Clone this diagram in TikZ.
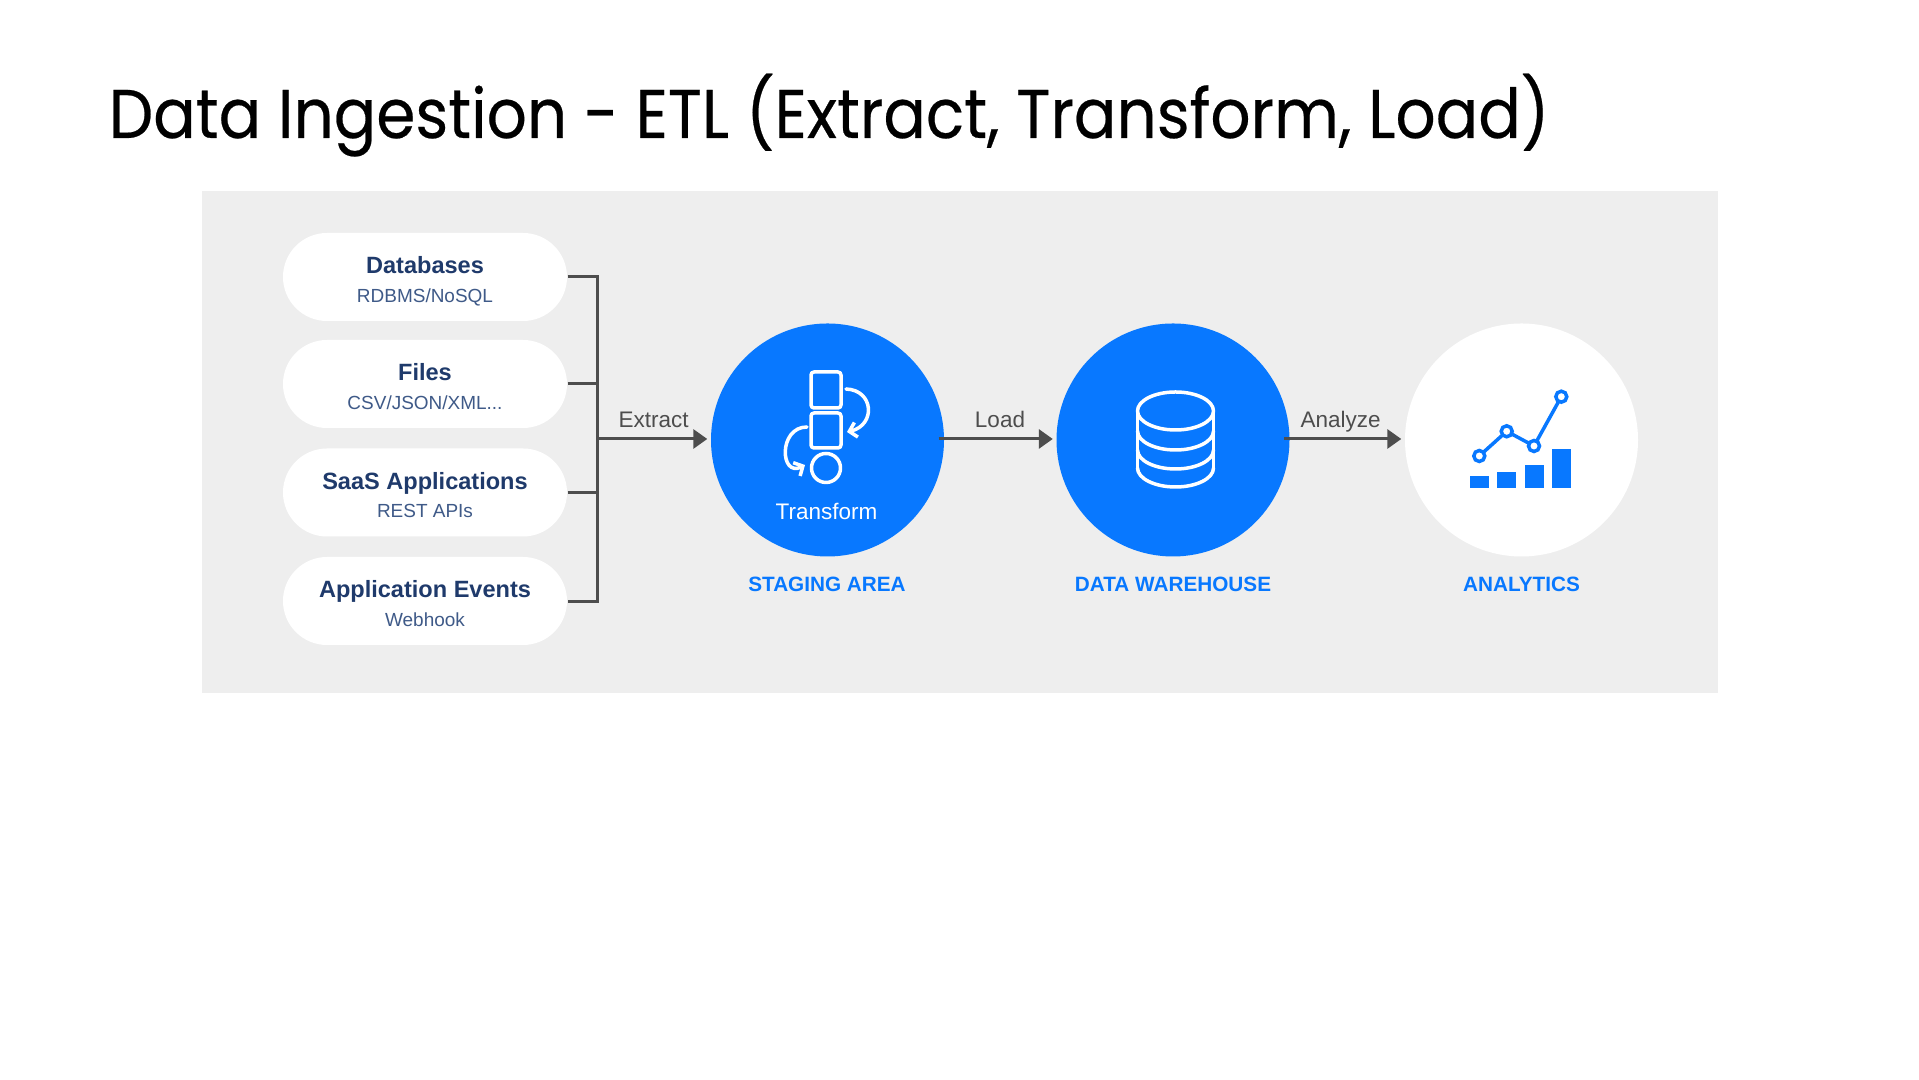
\documentclass[tikz,border=0pt]{standalone}
\usepackage{fontspec}
\setmainfont{Liberation Sans}
\newfontfamily\titlefont[FakeStretch=0.914,RawFeature={embolden=0.35}]{Poppins}
\usetikzlibrary{arrows.meta}
\definecolor{panelgray}{HTML}{EEEEEE}
\definecolor{mainblue}{HTML}{0878FF}
\definecolor{navy}{HTML}{1F3A6B}
\definecolor{subnavy}{HTML}{3F5A88}
\definecolor{wiregray}{HTML}{4D4D4D}
\tikzset{
  sourcepill/.style={fill=white, rounded corners=0.44cm, minimum width=2.84cm, minimum height=0.88cm,
    inner sep=0pt, align=center, text=navy, font=\fontsize{6.7}{8}\selectfont\bfseries},
  stagecircle/.style={circle, minimum size=2.33cm, inner sep=0pt},
  stagelabel/.style={anchor=base, text=mainblue, font=\fontsize{5.9}{7}\selectfont\bfseries},
  flowlabel/.style={anchor=base, text=wiregray, font=\fontsize{6.4}{7}\selectfont},
  wire/.style={draw=wiregray, line width=0.03cm},
  flowarrow/.style={wire, -{Triangle[length=0.14cm,width=0.19cm]}, shorten >=0.03cm, shorten <=-0.06cm},
  iconline/.style={draw=white, line width=0.035cm, line cap=round, line join=round},
  iconarrow/.style={iconline, -{Straight Barb[length=0.07cm,width=0.15cm]}},
  chartline/.style={draw=mainblue, line width=0.035cm},
}
\newcommand{\pilltext}[2]{#1\rule{0pt}{7.8pt}\\{\fontsize{5.4}{7}\selectfont\mdseries\color{subnavy}#2\rule[-1.5pt]{0pt}{1.5pt}}}
\begin{document}
\begin{tikzpicture}
\useasboundingbox (0,0) rectangle (19.19,10.80);
\fill[white] (0,0) rectangle (19.19,10.80);
\fill[panelgray] (2.02,3.87) rectangle (17.18,8.89);

\node[anchor=base west, inner sep=0pt, text=black, font=\titlefont\fontsize{19.6}{22}\selectfont] (title) at (1.08,9.42) {Data Ingestion - ETL (Extract, Transform, Load)};

% sources
\node[sourcepill] (databases) at (4.25,8.03) {\pilltext{Databases}{RDBMS/NoSQL}};
\node[sourcepill] (files) at (4.25,6.96) {\pilltext{Files}{CSV/JSON/XML...}};
\node[sourcepill] (saas) at (4.25,5.875) {\pilltext{SaaS Applications}{REST APIs}};
\node[sourcepill] (events) at (4.25,4.79) {\pilltext{Application Events}{Webhook}};

% stages
\node[stagecircle, fill=mainblue] (staging) at (8.275,6.40) {};
\node[stagecircle, fill=mainblue] (warehouse) at (11.73,6.40) {};
\node[stagecircle, fill=white] (analytics) at (15.215,6.40) {};

\node[stagelabel] (staginglabel) at (8.27,4.885) {STAGING AREA};
\node[stagelabel] (warehouselabel) at (11.73,4.885) {DATA WAREHOUSE};
\node[stagelabel] (analyticslabel) at (15.215,4.885) {ANALYTICS};

% wires
\coordinate (bustop) at (5.97,8.03);
\coordinate (busbottom) at (5.97,4.78);
\coordinate (busout) at (5.97,6.41);
\draw[wire] (databases.east) -- (bustop) -- (busbottom) -- (events.east |- busbottom);
\draw[wire] (files.east) -- (files.east -| bustop);
\draw[wire] (saas.east) -- (saas.east -| bustop);
\draw[flowarrow, shorten <=0pt] (busout) -- (staging.west |- busout);
\draw[flowarrow] (staging.east |- busout) -- (warehouse.west |- busout);
\draw[flowarrow] (warehouse.east |- busout) -- (analytics.west |- busout);
\node[flowlabel] (extractlabel) at (6.535,6.52) {Extract};
\node[flowlabel] (loadlabel) at (10.0,6.52) {Load};
\node[flowlabel] (analyzelabel) at (13.405,6.52) {Analyze};

% transform icon
\node[anchor=base, text=white, font=\fontsize{6.4}{7}\selectfont] (transform) at (8.265,5.60) {Transform};
\draw[iconline, rounded corners=0.03cm] (8.11,7.08) rectangle (8.41,6.72);
\draw[iconline, rounded corners=0.03cm] (8.11,6.67) rectangle (8.41,6.32);
\draw[iconline] (8.26,6.12) circle (0.145cm);
\draw[iconarrow] (8.46,6.91) .. controls (8.74,6.90) and (8.76,6.55) .. (8.47,6.48);
\draw[iconarrow] (8.07,6.53) .. controls (7.78,6.53) and (7.80,6.02) .. (8.05,6.15);

% warehouse icon
\draw[iconline] (11.755,6.69) ellipse (0.38cm and 0.19cm);
\draw[iconline] (11.375,6.69) -- (11.375,6.12);
\draw[iconline] (12.135,6.69) -- (12.135,6.12);
\draw[iconline] (11.375,6.49) arc (180:360:0.38cm and 0.19cm);
\draw[iconline] (11.375,6.30) arc (180:360:0.38cm and 0.19cm);
\draw[iconline] (11.375,6.12) arc (180:360:0.38cm and 0.19cm);

% chart icon
\fill[mainblue] (14.703,5.917) rectangle (14.893,6.043);
\fill[mainblue] (14.973,5.917) rectangle (15.163,6.083);
\fill[mainblue] (15.247,5.917) rectangle (15.437,6.147);
\fill[mainblue] (15.517,5.917) rectangle (15.707,6.31);
\draw[chartline] (14.793,6.24) -- (15.067,6.487) -- (15.34,6.34) -- (15.613,6.833);
\foreach \px/\py in {14.793/6.24, 15.067/6.487, 15.34/6.34, 15.613/6.833}
  \draw[chartline, fill=white] (\px,\py) circle (0.055cm);
\end{tikzpicture}
\end{document}
